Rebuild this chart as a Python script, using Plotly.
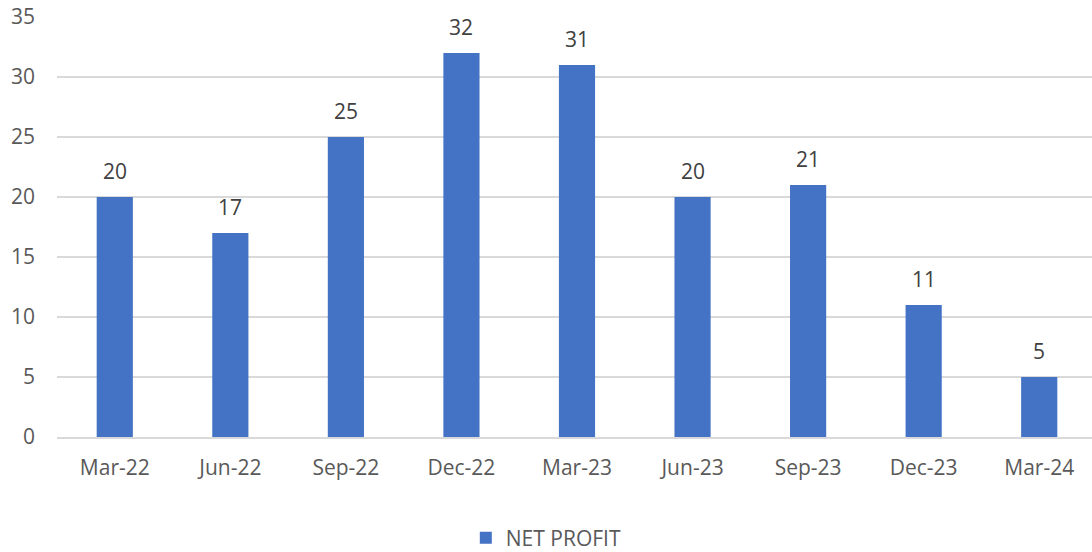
import plotly.graph_objects as go

quarters = ["Mar-22", "Jun-22", "Sep-22", "Dec-22", "Mar-23", "Jun-23", "Sep-23", "Dec-23", "Mar-24"]
net_profit = [20, 17, 25, 32, 31, 20, 21, 11, 5]

FONT = "Open Sans"
TXT = "#595959"
FS = 21

fig = go.Figure()
fig.add_trace(go.Bar(
    x=quarters, y=net_profit, name="NET PROFIT",
    marker=dict(color="#4472C4", line=dict(width=0)),
    showlegend=True,
))

for q, v in zip(quarters, net_profit):
    fig.add_annotation(x=q, y=v, text=str(v), showarrow=False,
                       yanchor="bottom", yshift=10,
                       font=dict(family=FONT, size=FS, color="#404040"))

fig.update_layout(
    width=1097, height=552,
    margin=dict(l=57, r=0, t=17, b=115),
    paper_bgcolor="white", plot_bgcolor="white",
    bargap=0.687,
    font=dict(family=FONT, size=FS, color=TXT),
    showlegend=True,
    legend=dict(orientation="h", x=0.498, xref="container", xanchor="center",
                y=0.025, yref="container", yanchor="middle",
                font=dict(family=FONT, size=FS, color=TXT)),
    xaxis=dict(showgrid=False, showline=True, linecolor="#D9D9D9", linewidth=1.5,
               ticks="", ticklabelstandoff=11, tickfont=dict(size=FS, color=TXT)),
    yaxis=dict(range=[0, 35], dtick=5, showgrid=True, gridcolor="#D9D9D9", gridwidth=1.5,
               zeroline=False, ticks="", ticklabelstandoff=21,
               tickfont=dict(size=FS, color=TXT)),
)

fig.write_html("out.html", config={"displayModeBar": False},
               post_script="document.body.style.margin='0';document.body.style.overflow='hidden';")
